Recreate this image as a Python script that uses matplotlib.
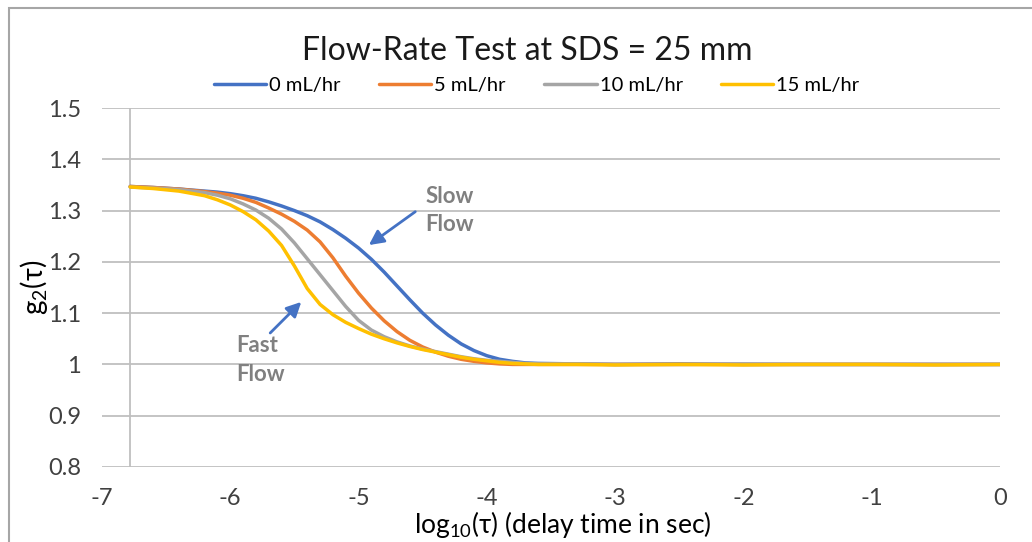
import matplotlib
matplotlib.use("Agg")
import matplotlib.pyplot as plt
from matplotlib.patches import Rectangle

plt.rcParams['font.family'] = ['Lato', 'DejaVu Sans']
plt.rcParams['axes.unicode_minus'] = False

# --- data (x = log10 of delay time) ---
log_tau = [-6.78, -6.6, -6.4, -6.2, -6.1, -6.0, -5.9, -5.8, -5.7, -5.6, -5.5, -5.4,
           -5.3, -5.2, -5.1, -5.0, -4.9, -4.8, -4.7, -4.6, -4.5, -4.4, -4.3, -4.2,
           -4.1, -4.0, -3.9, -3.8, -3.7, -3.6, -3.3, -3.0, -2.5, -2.0, -1.5, -1.0,
           -0.5, 0.0]

g2_0 = [1.347, 1.345, 1.342, 1.338, 1.336, 1.333, 1.329, 1.324, 1.317, 1.309, 1.300, 1.290,
        1.278, 1.263, 1.246, 1.227, 1.205, 1.180, 1.153, 1.126, 1.100, 1.077, 1.057, 1.040,
        1.027, 1.017, 1.010, 1.006, 1.003, 1.002, 1.001, 1.000, 1.001, 1.000, 1.000, 1.000,
        1.000, 1.000]
g2_5 = [1.347, 1.345, 1.342, 1.337, 1.334, 1.330, 1.324, 1.316, 1.305, 1.293, 1.279, 1.262,
        1.239, 1.208, 1.172, 1.139, 1.110, 1.085, 1.064, 1.047, 1.034, 1.024, 1.016, 1.010,
        1.006, 1.003, 1.001, 1.000, 1.000, 1.000, 1.000, 1.000, 1.000, 1.000, 1.000, 1.000,
        1.000, 1.000]
g2_10 = [1.346, 1.344, 1.341, 1.335, 1.330, 1.323, 1.313, 1.301, 1.285, 1.264, 1.237, 1.206,
         1.175, 1.144, 1.113, 1.086, 1.067, 1.054, 1.044, 1.036, 1.030, 1.025, 1.020, 1.015,
         1.011, 1.008, 1.006, 1.004, 1.002, 1.001, 1.001, 1.000, 1.000, 1.001, 1.000, 1.000,
         1.000, 1.000]
g2_15 = [1.346, 1.343, 1.338, 1.329, 1.321, 1.311, 1.298, 1.282, 1.260, 1.232, 1.192, 1.148,
         1.117, 1.097, 1.082, 1.070, 1.059, 1.050, 1.042, 1.035, 1.029, 1.024, 1.019, 1.014,
         1.010, 1.007, 1.004, 1.002, 1.001, 1.000, 1.000, 0.999, 1.000, 0.999, 1.000, 1.000,
         0.999, 1.000]

labels = ['0 mL/hr', '5 mL/hr', '10 mL/hr', '15 mL/hr']
colors = ['#4472C4', '#ED7D31', '#A5A5A5', '#FFC000']

fig = plt.figure(figsize=(10.32, 5.42), dpi=100)
ax = fig.add_axes([0.0988, 0.1384, 0.8702, 0.6623])

# gridlines + the vertical axis line where data starts
for yv in [0.8, 0.9, 1.0, 1.1, 1.2, 1.3, 1.4, 1.5]:
    ax.axhline(yv, color='#BFBFBF', lw=1.3, zorder=0)
ax.axvline(log_tau[0], color='#BFBFBF', lw=1.3, zorder=0)

for ys, lab, col in zip([g2_0, g2_5, g2_10, g2_15], labels, colors):
    ax.plot(log_tau, ys, color=col, lw=2.5, label=lab, solid_capstyle='round',
            solid_joinstyle='round')

ax.set_xlim(-7, 0)
ax.set_ylim(0.8, 1.5)
ax.set_xticks(range(-7, 1))
ax.set_yticks([0.8, 0.9, 1.0, 1.1, 1.2, 1.3, 1.4, 1.5])
ax.set_yticklabels(['0.8', '0.9', '1', '1.1', '1.2', '1.3', '1.4', '1.5'])
ax.tick_params(axis='both', length=0, labelsize=17, colors='#404040')
ax.tick_params(axis='x', pad=15)
ax.tick_params(axis='y', pad=15)
for s in ax.spines.values():
    s.set_visible(False)

ax.set_xlabel(r'$\mathregular{log_{10}}$(τ) (delay time in sec)', fontsize=19)
ax.xaxis.set_label_coords(0.513, -0.116)
ax.set_ylabel(r'$\mathregular{g_{2}}$(τ)', fontsize=20)
ax.yaxis.set_label_coords(-0.058, 0.5)

fig.text(0.511, 0.905, 'Flow-Rate Test at SDS = 25 mm', ha='center', va='center',
         fontsize=23, color='#1a1a1a')
fig.legend(loc='center', bbox_to_anchor=(0.52, 0.842), ncol=4, frameon=False,
           fontsize=14.5, handlelength=2.6, handletextpad=0.15, columnspacing=1.9)

# annotations
ax.annotate('', xy=(-4.937, 1.2296), xytext=(-4.54, 1.301),
            arrowprops=dict(arrowstyle='-|>', color='#4472C4', lw=2, mutation_scale=22))
ax.text(-4.48, 1.300, 'Slow\nFlow', color='#808080', fontsize=16, fontweight='bold',
        ha='left', va='center', linespacing=1.45)
ax.annotate('', xy=(-5.431, 1.1257), xytext=(-5.704, 1.0575),
            arrowprops=dict(arrowstyle='-|>', color='#4472C4', lw=2, mutation_scale=22))
ax.text(-5.95, 1.009, 'Fast\nFlow', color='#808080', fontsize=16, fontweight='bold',
        ha='left', va='center', linespacing=1.45)

# chart frame
fig.patches.append(Rectangle((9 / 1032, -0.1), 2, 1.1 - 8 / 542, transform=fig.transFigure,
                             fill=False, edgecolor='#A6A6A6', lw=1.5))

fig.savefig('out.png', dpi=100)
